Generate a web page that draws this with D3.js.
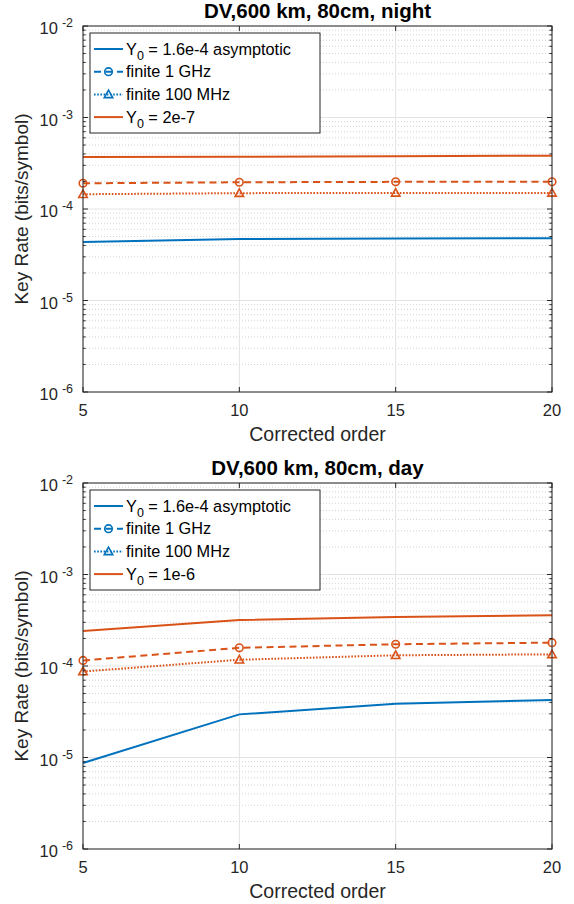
<!DOCTYPE html>
<html>
<head>
<meta charset="utf-8">
<script src="https://cdn.jsdelivr.net/npm/d3@7"></script>
<style>
  html, body { margin: 0; padding: 0; background: #ffffff; }
  svg { display: block; font-family: "Liberation Sans", Arial, sans-serif; }
</style>
</head>
<body>
<svg id="chart" width="574" height="904"></svg>
<script>
// ---------------- data ----------------
const orders = [5, 10, 15, 20];
const xTickValues = [5, 10, 15, 20];
const yTickExponents = [-6, -5, -4, -3, -2];

const nightTitle = "DV,600 km, 80cm, night";
const dayTitle = "DV,600 km, 80cm, day";

// night panel
const nightAsym = [4.35e-5, 4.69e-5, 4.75e-5, 4.8e-5];       // Y0 = 1.6e-4 asymptotic
const nightY0Asym = [3.69e-4, 3.73e-4, 3.78e-4, 3.82e-4];    // Y0 = 2e-7 asymptotic
const nightY0Finite1G = [1.91e-4, 1.96e-4, 1.98e-4, 1.98e-4];
const nightY0Finite100M = [1.45e-4, 1.49e-4, 1.50e-4, 1.50e-4];

// day panel
const dayAsym = [8.7e-6, 2.96e-5, 3.87e-5, 4.25e-5];         // Y0 = 1.6e-4 asymptotic
const dayY0Asym = [2.42e-4, 3.18e-4, 3.44e-4, 3.58e-4];      // Y0 = 1e-6 asymptotic
const dayY0Finite1G = [1.15e-4, 1.58e-4, 1.73e-4, 1.80e-4];
const dayY0Finite100M = [8.7e-5, 1.17e-4, 1.31e-4, 1.34e-4];

const nightLegend = ["Y|0| = 1.6e-4 asymptotic", "finite 1 GHz", "finite 100 MHz", "Y|0| = 2e-7"];
const dayLegend = ["Y|0| = 1.6e-4 asymptotic", "finite 1 GHz", "finite 100 MHz", "Y|0| = 1e-6"];

// ---------------- styling ----------------
const BLUE = "#0072BD";
const ORANGE = "#D95319";
const AX = "#262626";

const svg = d3.select("#chart");

function drawPanel(cfg) {
  const L = 83, R = 552, T = cfg.top, B = cfg.top + 366;
  const x = d3.scaleLinear().domain([5, 20]).range([L, R]);
  const y = d3.scaleLog().domain([1e-6, 1e-2]).range([B, T]);
  const g = svg.append("g");

  // minor grid (dotted)
  const minorVals = [];
  for (let e = -6; e < -2; e++) for (let k = 2; k <= 9; k++) minorVals.push(k * Math.pow(10, e));
  g.append("g").selectAll("line").data(minorVals).join("line")
    .attr("x1", L).attr("x2", R)
    .attr("y1", d => y(d)).attr("y2", d => y(d))
    .attr("stroke", "#c8c8c8").attr("stroke-width", 0.8)
    .attr("stroke-dasharray", "1,2");

  // major grid
  const majorY = yTickExponents.map(e => Math.pow(10, e));
  g.append("g").selectAll("line").data(majorY).join("line")
    .attr("x1", L).attr("x2", R)
    .attr("y1", d => y(d)).attr("y2", d => y(d))
    .attr("stroke", "#e3e3e3").attr("stroke-width", 1);
  g.append("g").selectAll("line").data(xTickValues).join("line")
    .attr("x1", d => x(d)).attr("x2", d => x(d))
    .attr("y1", T).attr("y2", B)
    .attr("stroke", "#e3e3e3").attr("stroke-width", 1);

  // data lines
  const line = d3.line().x((d, i) => x(orders[i])).y(d => y(d));
  const series = [
    { v: cfg.asym, color: BLUE, dash: null, marker: null },
    { v: cfg.y0Asym, color: ORANGE, dash: null, marker: null },
    { v: cfg.fin1G, color: ORANGE, dash: "7,4.5", marker: "circle" },
    { v: cfg.fin100M, color: ORANGE, dash: "1.6,1.6", marker: "triangle" }
  ];
  series.forEach(s => {
    g.append("path").datum(s.v)
      .attr("d", line)
      .attr("fill", "none")
      .attr("stroke", s.color)
      .attr("stroke-width", 2)
      .attr("stroke-dasharray", s.dash);
    if (s.marker) {
      g.append("g").selectAll("path").data(s.v).join("path")
        .attr("transform", (d, i) => `translate(${x(orders[i])},${y(d)})`)
        .attr("d", s.marker === "circle" ? d3.symbol(d3.symbolCircle, 45)() : triPath(4.3))
        .attr("fill", "none")
        .attr("stroke", s.color)
        .attr("stroke-width", 1.6);
    }
  });

  // axes box
  g.append("rect").attr("x", L).attr("y", T).attr("width", R - L).attr("height", B - T)
    .attr("fill", "none").attr("stroke", AX).attr("stroke-width", 1);

  // ticks (inside)
  const tickLen = 5, minorLen = 2.6;
  xTickValues.forEach(v => {
    g.append("line").attr("x1", x(v)).attr("x2", x(v)).attr("y1", B).attr("y2", B - tickLen).attr("stroke", AX);
    g.append("line").attr("x1", x(v)).attr("x2", x(v)).attr("y1", T).attr("y2", T + tickLen).attr("stroke", AX);
  });
  majorY.forEach(v => {
    g.append("line").attr("x1", L).attr("x2", L + tickLen).attr("y1", y(v)).attr("y2", y(v)).attr("stroke", AX);
    g.append("line").attr("x1", R).attr("x2", R - tickLen).attr("y1", y(v)).attr("y2", y(v)).attr("stroke", AX);
  });
  minorVals.forEach(v => {
    g.append("line").attr("x1", L).attr("x2", L + minorLen).attr("y1", y(v)).attr("y2", y(v)).attr("stroke", AX);
    g.append("line").attr("x1", R).attr("x2", R - minorLen).attr("y1", y(v)).attr("y2", y(v)).attr("stroke", AX);
  });

  // x tick labels
  g.append("g").selectAll("text").data(xTickValues).join("text")
    .attr("x", d => x(d)).attr("y", B + 24)
    .attr("text-anchor", "middle").attr("font-size", 16.5).attr("fill", AX)
    .text(d => d);

  // y tick labels
  yTickExponents.forEach(e => {
    const t = g.append("text")
      .attr("x", L - 10).attr("y", y(Math.pow(10, e)) + 8)
      .attr("text-anchor", "end").attr("font-size", 16.5).attr("fill", AX);
    t.append("tspan").text("10");
    t.append("tspan").attr("dx", 4).attr("dy", -7).attr("font-size", 12.5).text(String(e));
  });

  // axis labels
  g.append("text").attr("x", (L + R) / 2).attr("y", B + 49)
    .attr("text-anchor", "middle").attr("font-size", 19.5).attr("fill", AX)
    .text("Corrected order");
  g.append("text")
    .attr("transform", `translate(28,${(T + B) / 2}) rotate(-90)`)
    .attr("text-anchor", "middle").attr("font-size", 19).attr("fill", AX)
    .text("Key Rate (bits/symbol)");

  // title
  g.append("text").attr("x", (L + R) / 2).attr("y", T - 8)
    .attr("text-anchor", "middle").attr("font-size", 20.5).attr("font-weight", "bold").attr("fill", "#000")
    .text(cfg.title);

  // legend
  const lx = 90, ly = T + 7, lw = 230, lh = 100;
  const lg = g.append("g");
  lg.append("rect").attr("x", lx).attr("y", ly).attr("width", lw).attr("height", lh)
    .attr("fill", "#fff").attr("stroke", AX).attr("stroke-width", 1);
  const legItems = [
    { color: BLUE, dash: null, marker: null },
    { color: BLUE, dash: "7,4.5", marker: "circle" },
    { color: BLUE, dash: "1.6,1.6", marker: "triangle" },
    { color: ORANGE, dash: null, marker: null }
  ];
  legItems.forEach((it, i) => {
    const cy = ly + 16 + i * 22.7;
    lg.append("line").attr("x1", lx + 4).attr("x2", lx + 33).attr("y1", cy).attr("y2", cy)
      .attr("stroke", it.color).attr("stroke-width", 2).attr("stroke-dasharray", it.dash);
    if (it.marker) {
      lg.append("path").attr("transform", `translate(${lx + 18.5},${cy})`)
        .attr("d", it.marker === "circle" ? d3.symbol(d3.symbolCircle, 45)() : triPath(4.3))
        .attr("fill", "none").attr("stroke", it.color).attr("stroke-width", 1.6);
    }
    const parts = cfg.legend[i].split("|");
    const t = lg.append("text").attr("x", lx + 36).attr("y", cy + 5.5)
      .attr("font-size", 16.3).attr("fill", "#000");
    if (parts.length === 3) {
      t.append("tspan").text(parts[0]);
      t.append("tspan").attr("dy", 5).attr("font-size", 12.5).text(parts[1]);
      t.append("tspan").attr("dy", -5).text(parts[2]);
    } else {
      t.text(parts[0]);
    }
  });
}

function triPath(r) {
  const h = r * 1.7;
  return `M0,${-r}L${h * 0.58},${r * 0.75}L${-h * 0.58},${r * 0.75}Z`;
}

drawPanel({ top: 26, title: nightTitle, asym: nightAsym, y0Asym: nightY0Asym,
  fin1G: nightY0Finite1G, fin100M: nightY0Finite100M, legend: nightLegend });
drawPanel({ top: 483, title: dayTitle, asym: dayAsym, y0Asym: dayY0Asym,
  fin1G: dayY0Finite1G, fin100M: dayY0Finite100M, legend: dayLegend });
</script>
</body>
</html>
